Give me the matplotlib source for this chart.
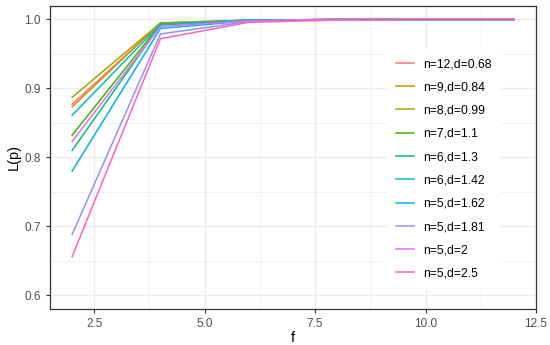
import numpy as np
import matplotlib
matplotlib.use('Agg')
import matplotlib.pyplot as plt
from matplotlib.ticker import MultipleLocator

plt.rcParams['font.family'] = ['Liberation Sans', 'DejaVu Sans']

f = [2, 4, 6, 8, 10, 12]
labels = ['n=12,d=0.68', 'n=9,d=0.84', 'n=8,d=0.99', 'n=7,d=1.1', 'n=6,d=1.3',
          'n=6,d=1.42', 'n=5,d=1.62', 'n=5,d=1.81', 'n=5,d=2', 'n=5,d=2.5']
colors = ['#F8766D', '#D89000', '#A3A500', '#39B600', '#00BF7D',
          '#00BFC4', '#00B0F6', '#9590FF', '#E76BF3', '#FF62BC']

L_n12_d068 = [0.877, 0.994, 0.999, 1.0, 1.0, 1.0]
L_n9_d084 = [0.873, 0.995, 0.999, 1.0, 1.0, 1.0]
L_n8_d099 = [0.887, 0.995, 0.999, 1.0, 1.0, 1.0]
L_n7_d11 = [0.832, 0.993, 0.999, 1.0, 1.0, 1.0]
L_n6_d13 = [0.810, 0.992, 0.999, 1.0, 1.0, 1.0]
L_n6_d142 = [0.861, 0.993, 0.999, 1.0, 1.0, 1.0]
L_n5_d162 = [0.780, 0.987, 0.998, 1.0, 1.0, 1.0]
L_n5_d181 = [0.688, 0.979, 0.997, 1.0, 1.0, 1.0]
L_n5_d2 = [0.823, 0.990, 0.998, 1.0, 1.0, 1.0]
L_n5_d25 = [0.656, 0.972, 0.996, 0.999, 1.0, 1.0]

series = [L_n12_d068, L_n9_d084, L_n8_d099, L_n7_d11, L_n6_d13,
          L_n6_d142, L_n5_d162, L_n5_d181, L_n5_d2, L_n5_d25]

fig = plt.figure(figsize=(5.5, 3.45), dpi=100)
ax = fig.add_axes([0.0909, 0.1043, 0.8836, 0.8792])

for vals, lab, c in zip(series, labels, colors):
    ax.plot(f, vals, color=c, lw=1.1, label=lab)

ax.set_xlim(1.5, 12.5)
ax.set_ylim(0.58, 1.02)
ax.xaxis.set_minor_locator(MultipleLocator(1.25))
ax.yaxis.set_minor_locator(MultipleLocator(0.05))
ax.set_xticks([2.5, 5.0, 7.5, 10.0, 12.5])
ax.set_xticklabels(['2.5', '5.0', '7.5', '10.0', '12.5'])
ax.set_yticks([0.6, 0.7, 0.8, 0.9, 1.0])
ax.set_yticklabels(['0.6', '0.7', '0.8', '0.9', '1.0'])

ax.grid(which='major', color='#EBEBEB', lw=1.0)
ax.grid(which='minor', color='#EBEBEB', lw=0.5)
ax.set_axisbelow(True)
for s in ax.spines.values():
    s.set_color('#333333')
    s.set_linewidth(0.9)
ax.tick_params(which='major', length=3, color='#333333', labelcolor='#4D4D4D', labelsize=8.5, width=0.8)
ax.tick_params(which='minor', length=0)

ax.set_xlabel('f', fontsize=10.5, labelpad=1)
ax.set_ylabel('L(p)', fontsize=10.5, labelpad=3)

leg = ax.legend(loc='upper left', bbox_to_anchor=(0.681, 0.876), frameon=True, fontsize=8.7,
                handlelength=1.55, labelspacing=0.935, borderpad=0.72, handletextpad=0.75)
leg.get_frame().set_facecolor('white')
leg.get_frame().set_edgecolor('none')
leg.get_frame().set_alpha(1)
leg.get_frame().set_boxstyle('square', pad=0)

fig.savefig('out.png', dpi=100)
